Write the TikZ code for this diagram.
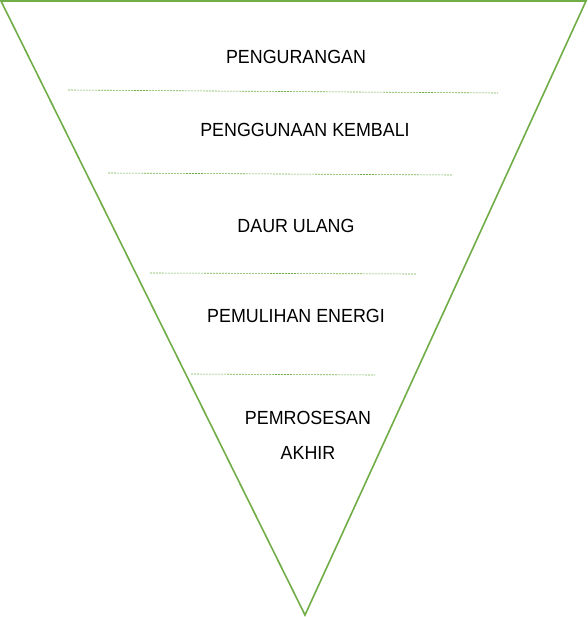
\documentclass[tikz,border=0pt]{standalone}
\usepackage{fontspec}
\setmainfont{Liberation Sans}[FakeStretch=0.94]
\definecolor{grn}{HTML}{70AD47}
\begin{document}
\begin{tikzpicture}[x=1pt,y=-1pt,
  tri/.style={draw=grn,line width=1.6pt,line join=miter},
  sep/.style={draw=grn,line width=0.6pt,dash pattern=on 2pt off 1pt},
  lbl/.style={font=\fontsize{19}{22}\selectfont,inner sep=0pt,anchor=center}]
\useasboundingbox (0,0) rectangle (587,617);
\coordinate (tl) at (1,1);
\coordinate (tr) at (586,1);
\coordinate (bt) at (305,615);
\draw[tri] (tl) -- (tr) -- (bt) -- cycle;
\coordinate (a1) at (68,90);  \coordinate (b1) at (498,93);
\coordinate (a2) at (108,173); \coordinate (b2) at (453,175);
\coordinate (a3) at (150,273); \coordinate (b3) at (416,274);
\coordinate (a4) at (191,374); \coordinate (b4) at (375,375);
\draw[sep] (a1) -- (b1);
\draw[sep] (a2) -- (b2);
\draw[sep] (a3) -- (b3);
\draw[sep] (a4) -- (b4);
\node[lbl] (t1) at (296,57) {PENGURANGAN};
\node[lbl] (t2) at (305,130) {PENGGUNAAN KEMBALI};
\node[lbl] (t3) at (296,226) {DAUR ULANG};
\node[lbl] (t4) at (296,316) {PEMULIHAN ENERGI};
\node[lbl] (t5) at (308,418) {PEMROSESAN};
\node[lbl] (t6) at (308,453) {AKHIR};
\end{tikzpicture}
\end{document}
